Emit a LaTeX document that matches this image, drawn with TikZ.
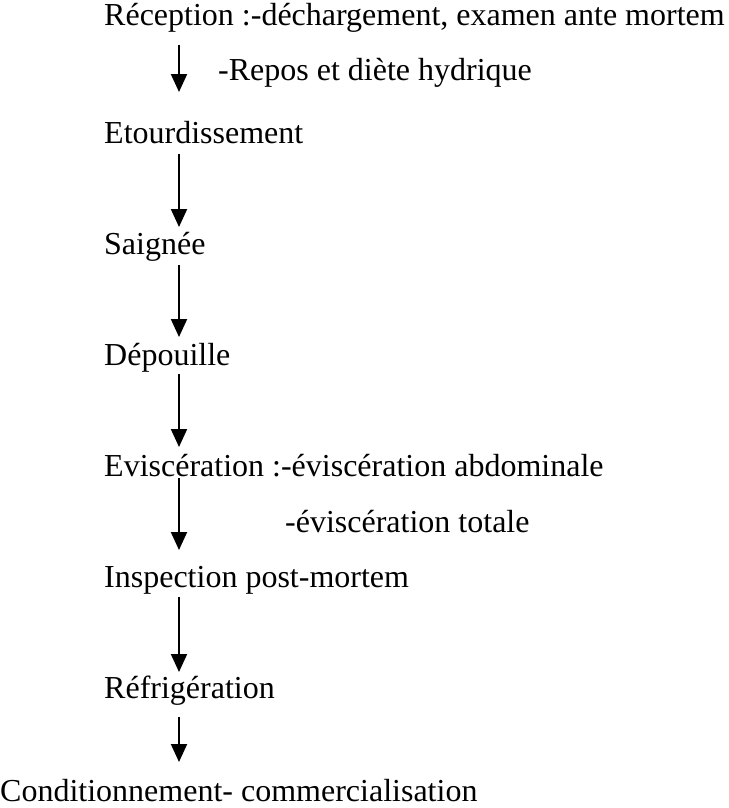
\documentclass[tikz,border=0pt]{standalone}
\usepackage{fontspec}
\setmainfont{Liberation Serif}
\usetikzlibrary{arrows.meta}

\begin{document}
\begin{tikzpicture}[x=1pt,y=-1pt,
  etape/.style={inner sep=0pt,anchor=base west,font=\fontsize{32}{38}\selectfont},
  flow/.style={-{Triangle[width=16pt,length=18pt]},line width=2pt}]
  \useasboundingbox (0,0) rectangle (728,808);
  \coordinate (ax) at (179,0);
  % etapes
  \node[etape] (rec) at (104,26)  {Réception :-déchargement, examen ante mortem};
  \node[etape] (rep) at (218,80)  {-Repos et diète hydrique};
  \node[etape] (eto) at (104,143) {Etourdissement};
  \node[etape] (sai) at (104,254) {Saignée};
  \node[etape] (dep) at (104,365) {Dépouille};
  \node[etape] (evi) at (104,476) {Eviscération :-éviscération abdominale};
  \node[etape] (evt) at (285,532) {-éviscération totale};
  \node[etape] (ins) at (104,587) {Inspection post-mortem};
  \node[etape] (ref) at (104,698) {Réfrigération};
  \node[etape] (con) at (0,801)   {Conditionnement- commercialisation};
  % fleches
  \draw[flow] ([yshift=-19pt]rec.base -| ax) -- ([yshift=51pt]eto.base -| ax);
  \draw[flow] ([yshift=-11pt]eto.base -| ax) -- ([yshift=27pt]sai.base -| ax);
  \draw[flow] ([yshift=-11pt]sai.base -| ax) -- ([yshift=28pt]dep.base -| ax);
  \draw[flow] ([yshift=-9pt]dep.base -| ax) -- ([yshift=29pt]evi.base -| ax);
  \draw[flow] ([yshift=-2pt]evi.base -| ax) -- ([yshift=37pt]ins.base -| ax);
  \draw[flow] ([yshift=-10pt]ins.base -| ax) -- ([yshift=26pt]ref.base -| ax);
  \draw[flow] ([yshift=-19pt]ref.base -| ax) -- ([yshift=39pt]con.base -| ax);
\end{tikzpicture}
\end{document}
